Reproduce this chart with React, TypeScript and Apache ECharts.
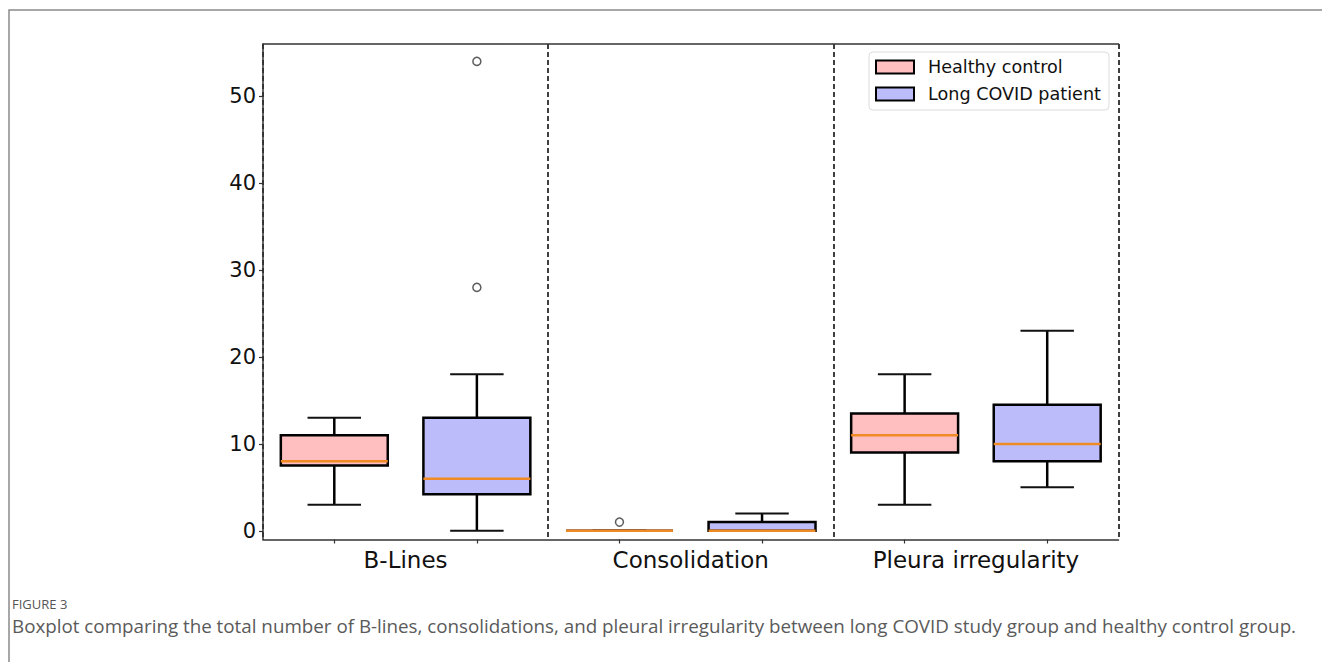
import React, { useEffect, useRef } from "react";
import * as echarts from "echarts";

const positions = ["HC B-Lines", "LC B-Lines", "HC Consolidation", "LC Consolidation", "HC Pleura", "LC Pleura"];
const groups = ["B-Lines", "Consolidation", "Pleura irregularity"];
const yTicks = [0, 10, 20, 30, 40, 50];
const xTicks = [0.5, 1.5, 2.5, 3.5, 4.5, 5.5];
// [positionIndex, whiskerLow, q1, median, q3, whiskerHigh]
const healthy = [
  [0, 3, 7.5, 8, 11, 13],
  [2, 0, 0, 0, 0, 0],
  [4, 3, 9, 11, 13.5, 18],
];
const longCovid = [
  [1, 0, 4.2, 6, 13, 18],
  [3, 0, 0, 0, 1, 2],
  [5, 5, 8, 10, 14.5, 23],
];
// [positionIndex, value]
const outliers = [
  [1, 28],
  [1, 54],
  [2, 1],
];

const FONT = "DejaVu Sans";
const PINK = "#ffbfc0";
const BLUE = "#bcbcfb";
const ORANGE = "#f08a24";

function renderBox(params: any, api: any) {
  const x = api.value(0);
  const lo = api.coord([x, api.value(1)]);
  const q1 = api.coord([x, api.value(2)]);
  const med = api.coord([x, api.value(3)]);
  const q3 = api.coord([x, api.value(4)]);
  const hi = api.coord([x, api.value(5)]);
  const band = api.size([1, 0])[0];
  const bw = band * 0.75;
  const cw = bw / 2;
  const cx = lo[0];
  const fill = api.visual("color");
  const black = { stroke: "#000", lineWidth: 2.5 };
  return {
    type: "group",
    children: [
      { type: "line", shape: { x1: cx, y1: lo[1], x2: cx, y2: q1[1] }, style: black },
      { type: "line", shape: { x1: cx, y1: q3[1], x2: cx, y2: hi[1] }, style: black },
      { type: "line", shape: { x1: cx - cw / 2, y1: lo[1], x2: cx + cw / 2, y2: lo[1] }, style: { stroke: "#111", lineWidth: 2 } },
      { type: "line", shape: { x1: cx - cw / 2, y1: hi[1], x2: cx + cw / 2, y2: hi[1] }, style: { stroke: "#111", lineWidth: 2 } },
      {
        type: "rect",
        shape: { x: cx - bw / 2, y: q3[1], width: bw, height: q1[1] - q3[1] },
        style: { fill, stroke: "#000", lineWidth: 2.5 },
      },
      { type: "line", shape: { x1: cx - bw / 2, y1: med[1], x2: cx + bw / 2, y2: med[1] }, style: { stroke: ORANGE, lineWidth: 2.5 } },
    ],
  };
}

export default function App() {
  const ref = useRef<HTMLDivElement>(null);
  useEffect(() => {
    if (!ref.current) return;
    const chart = echarts.init(ref.current, null, { renderer: "svg" });
    chart.setOption({
      animation: false,
      backgroundColor: "#fff",
      textStyle: { fontFamily: FONT },
      grid: { left: 263, top: 44, right: 203.5, bottom: 122.5 },
      legend: {
        orient: "vertical",
        left: 869,
        top: 52,
        padding: [6, 8, 7, 6],
        itemWidth: 38,
        itemHeight: 13,
        itemGap: 9,
        backgroundColor: "#fff",
        borderColor: "#dcdcdc",
        borderWidth: 1,
        borderRadius: 4,
        selectedMode: false,
        icon: "rect",
        textStyle: { fontFamily: FONT, fontSize: 17.6, color: "#111", lineHeight: 18, padding: [0, 0, 0, 9] },
        data: [
          { name: "Healthy control", itemStyle: { color: PINK, borderColor: "#000", borderWidth: 2 } },
          { name: "Long COVID patient", itemStyle: { color: BLUE, borderColor: "#000", borderWidth: 2 } },
        ],
      },
      xAxis: [
        {
          type: "category",
          data: positions,
          position: "bottom",
          axisLine: { onZero: false, lineStyle: { color: "#333", width: 1.5 } },
          axisTick: { show: false },
          axisLabel: { show: false },
          splitLine: { show: false },
        },
        {
          type: "category",
          data: groups,
          position: "bottom",
          axisLine: { show: false, onZero: false },
          axisTick: { show: false },
          axisLabel: { show: true, fontFamily: FONT, fontSize: 23, color: "#111", margin: 9 },
          splitLine: { show: false },
        },
        {
          type: "value",
          min: 0,
          max: 6,
          interval: 2,
          position: "top",
          axisLine: { show: true, onZero: false, lineStyle: { color: "#333", width: 1.5 } },
          axisTick: { show: false },
          axisLabel: { show: false },
          splitLine: { show: true, lineStyle: { color: "#000", width: 1.5, type: [5, 3] } },
        },
        {
          type: "value",
          min: 0,
          max: 6,
          position: "bottom",
          axisLine: { show: false, onZero: false },
          axisTick: { show: true, length: 4, customValues: xTicks, lineStyle: { color: "#333", width: 1.2 } },
          axisLabel: { show: false },
          splitLine: { show: false },
        },
      ],
      yAxis: {
        type: "value",
        min: -1,
        max: 56,
        axisLine: { show: true, onZero: false, lineStyle: { color: "#333", width: 1.5 } },
        axisTick: { show: true, length: 4, customValues: yTicks, lineStyle: { color: "#333", width: 1.2 } },
        axisLabel: { customValues: yTicks, fontFamily: FONT, fontSize: 21, color: "#111", margin: 7 },
        splitLine: { show: false },
      },
      series: [
        {
          name: "Healthy control",
          type: "custom",
          xAxisIndex: 0,
          renderItem: renderBox,
          itemStyle: { color: PINK },
          encode: { x: 0, y: [1, 2, 3, 4, 5] },
          data: healthy,
          z: 3,
        },
        {
          name: "Long COVID patient",
          type: "custom",
          xAxisIndex: 0,
          renderItem: renderBox,
          itemStyle: { color: BLUE },
          encode: { x: 0, y: [1, 2, 3, 4, 5] },
          data: longCovid,
          z: 3,
        },
        {
          name: "Outliers",
          type: "scatter",
          xAxisIndex: 0,
          symbol: "circle",
          symbolSize: 8,
          itemStyle: { color: "#fff", borderColor: "#333", borderWidth: 1.5 },
          data: outliers,
          z: 4,
        },
      ],
      graphic: [
        {
          type: "polyline",
          shape: { points: [[9, 662], [9, 10], [1322, 10]] },
          style: { stroke: "#8a8a8a", lineWidth: 1.5, fill: "none" },
        },
        {
          type: "text",
          left: 12,
          top: 597,
          style: { text: "FIGURE 3", fontFamily: "Open Sans", fontSize: 13, fill: "#555" },
        },
        {
          type: "text",
          left: 12,
          top: 616,
          style: {
            text: "Boxplot comparing the total number of B-lines, consolidations, and pleural irregularity between long COVID study group and healthy control group.",
            fontFamily: "Open Sans",
            fontSize: 18.8,
            fill: "#5a5a5a",
          },
        },
      ],
    });
    return () => chart.dispose();
  }, []);
  return <div ref={ref} style={{ position: "fixed", left: 0, top: 0, width: 1322, height: 662 }} />;
}
